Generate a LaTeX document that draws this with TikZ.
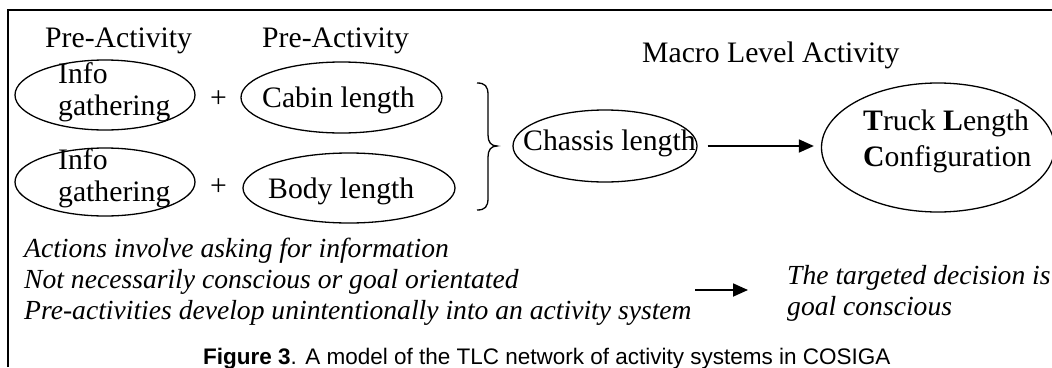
\documentclass[tikz,border=0pt]{standalone}
\usepackage{fontspec}
\setmainfont{Liberation Serif}
\newfontfamily\capfont{Liberation Sans}
\usetikzlibrary{shapes.geometric,arrows.meta}

\begin{document}
\begin{tikzpicture}[x=1pt,y=-1pt,
  bubble/.style={draw,ellipse,line width=1.3pt,inner sep=0pt},
  txt/.style={inner sep=0pt,anchor=base west,font=\fontsize{29.7}{32}\selectfont},
  note/.style={inner sep=0pt,anchor=base west,font=\fontsize{27.6}{31}\selectfont\itshape},
  link/.style={line width=1.8pt,-{Triangle[length=15pt,width=13pt]}}]
\useasboundingbox (0,0) rectangle (1052,367);

% frame (top and left edges)
\draw[line width=2pt] (8,367) -- (8,10) -- (1052,10);

% headings
\node[txt] (pa1) at (45,47) {Pre-Activity};
\node[txt] (pa2) at (262,47) {Pre-Activity};
\node[txt] (macro) at (642,62) {Macro Level Activity};

% first row of pre-activities
\node[bubble,minimum width=180pt,minimum height=70pt] (info1) at (105,95) {};
\node[txt] (info1a) at (58,83) {Info};
\node[txt] (info1b) at (58,115) {gathering};
\node[txt] (plus1) at (210,107.5) {+};
\node[bubble,minimum width=201pt,minimum height=71pt] (cabin) at (341.5,97.5) {};
\node[txt] (cabint) at (262,107) {Cabin length};

% second row of pre-activities
\node[bubble,minimum width=180pt,minimum height=68pt] (info2) at (105,182) {};
\node[txt] (info2a) at (58,169) {Info};
\node[txt] (info2b) at (58,201) {gathering};
\node[txt] (plus2) at (210,195.5) {+};
\node[bubble,minimum width=212pt,minimum height=70pt] (body) at (349,188) {};
\node[txt] (bodyt) at (268,198) {Body length};

% grouping brace
\draw[line width=1.3pt] (477,83) .. controls (485,83) and (488,86) .. (488,95)
  -- (488,135) .. controls (488,142) and (491,146) .. (497,146)
  .. controls (491,146) and (488,150) .. (488,157)
  -- (488,198) .. controls (488,207) and (485,210) .. (477,210);

% macro level activity
\node[bubble,minimum width=184pt,minimum height=72pt] (chassis) at (605,146) {};
\node[txt] (chassist) at (523,150) {Chassis length};
\node[bubble,minimum width=233pt,minimum height=129pt] (tlc) at (938,147.5) {};
\node[txt] (tlc1) at (863,130) {\textbf{T}ruck \textbf{L}ength};
\node[txt] (tlc2) at (863,166) {\textbf{C}onfiguration};
\draw[link] ([xshift=10pt]chassis.east) -- ([xshift=-7pt]chassis.east -| tlc.west);

% notes
\node[note] (n1) at (24,257) {Actions involve asking for information};
\node[note] (n2) at (24,288) {Not necessarily conscious or goal orientated};
\node[note] (n3) at (24,319) {Pre-activities develop unintentionally into an activity system};
\node[note] (n4) at (787,284) {The targeted decision is};
\node[note] (n5) at (787,315) {goal conscious};
\coordinate (a0) at (695,290);
\coordinate (a1) at (748,290);
\draw[link] (a0) -- (a1);

% caption
\node[inner sep=0pt,anchor=base west,font=\capfont\fontsize{22.5}{24}\selectfont] (cap) at (203,364)
  {\textbf{Figure 3}. A model of the TLC network of activity systems in COSIGA};
\end{tikzpicture}
\end{document}
